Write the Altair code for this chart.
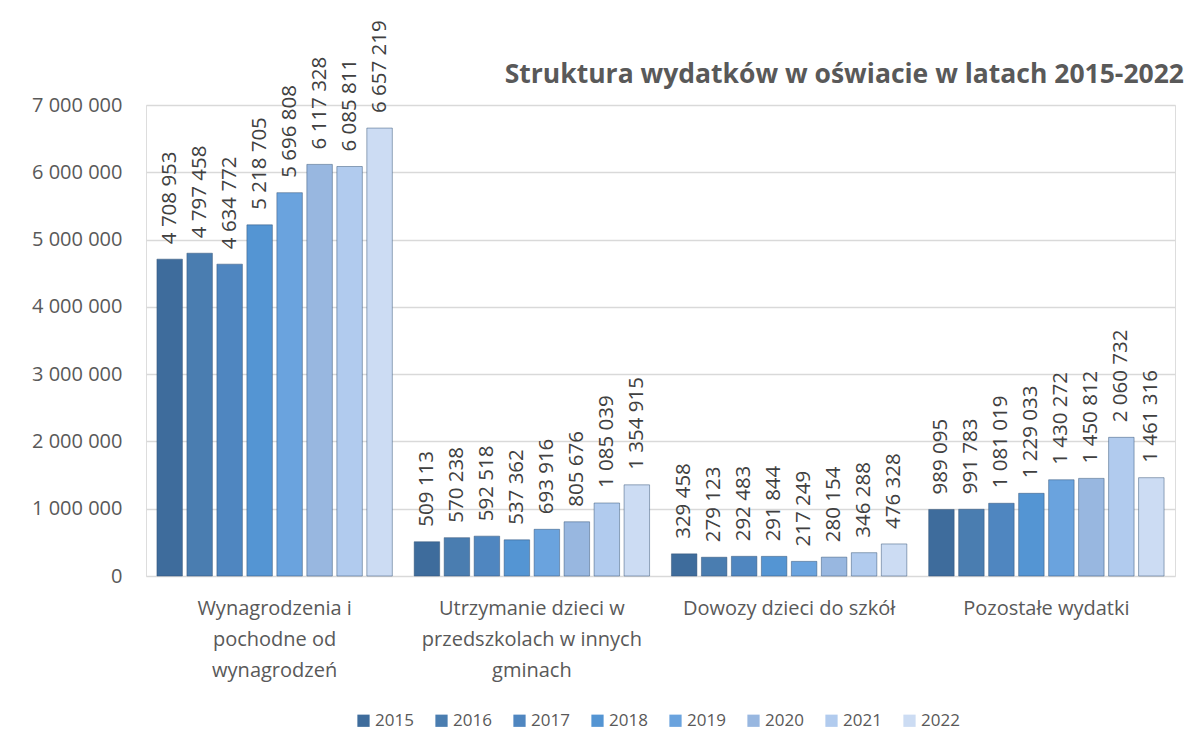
import altair as alt
import pandas as pd

categories = [
    "Wynagrodzenia i\npochodne od\nwynagrodzeń",
    "Utrzymanie dzieci w\nprzedszkolach w innych\ngminach",
    "Dowozy dzieci do szkół",
    "Pozostałe wydatki",
]
years = ["2015", "2016", "2017", "2018", "2019", "2020", "2021", "2022"]
wynagrodzenia = [4708953, 4797458, 4634772, 5218705, 5696808, 6117328, 6085811, 6657219]
utrzymanie = [509113, 570238, 592518, 537362, 693916, 805676, 1085039, 1354915]
dowozy = [329458, 279123, 292483, 291844, 217249, 280154, 346288, 476328]
pozostale = [989095, 991783, 1081019, 1229033, 1430272, 1450812, 2060732, 1461316]
colors = ["#3e6c9c", "#4a7db0", "#4f86c0", "#5495d3", "#6aa3de", "#98b7e0", "#b1cbee", "#ccdcf3"]
y_ticks = [0, 1000000, 2000000, 3000000, 4000000, 5000000, 6000000, 7000000]

rows = []
for cat, vals in zip(categories, [wynagrodzenia, utrzymanie, dowozy, pozostale]):
    for yr, v in zip(years, vals):
        rows.append({"category": cat, "year": yr, "value": v})
df = pd.DataFrame(rows)

FONT = "Open Sans"
GREY = "#595959"

base = alt.Chart(df).transform_calculate(
    label="replace(format(datum.value, ','), regexp(',', 'g'), ' ')"
).encode(
    x=alt.X(
        "category:N",
        sort=categories,
        scale=alt.Scale(paddingInner=0.085, paddingOuter=0.0425),
        axis=alt.Axis(
            title=None,
            labelExpr="split(datum.label, '\\n')",
            labelAngle=0,
            labelFontSize=20,
            labelFont=FONT,
            labelColor=GREY,
            labelLineHeight=31,
            labelPadding=22,
            labelLimit=400,
            ticks=False,
            domain=False,
            grid=False,
        ),
    ),
    xOffset=alt.XOffset(
        "year:N", sort=years, scale=alt.Scale(paddingInner=0.15, paddingOuter=0.0)
    ),
    y=alt.Y(
        "value:Q",
        scale=alt.Scale(domain=[0, 7000000], nice=False),
        axis=alt.Axis(
            title=None,
            values=y_ticks,
            labelExpr="replace(format(datum.value, ','), regexp(',', 'g'), ' ')",
            labelFontSize=20,
            labelFont=FONT,
            labelColor=GREY,
            labelPadding=24,
            ticks=False,
            domain=False,
            gridColor="#d9d9d9",
            gridWidth=1.5,
        ),
    ),
)

bars = base.mark_bar(stroke="#2f4f72", strokeWidth=0.8, strokeOpacity=0.6).encode(
    color=alt.Color(
        "year:N",
        sort=years,
        scale=alt.Scale(domain=years, range=colors),
        legend=alt.Legend(
            title=None,
            orient="none",
            direction="horizontal",
            legendX=209,
            legendY=607,
            symbolType="square",
            symbolSize=150,
            symbolStrokeWidth=0,
            labelFontSize=17,
            labelFont=FONT,
            labelColor=GREY,
            labelOffset=3,
            columnPadding=19,
        ),
    )
)

labels = base.mark_text(
    angle=270,
    align="left",
    baseline="middle",
    dx=15,
    fontSize=20.5,
    font=FONT,
    color="#404040",
).encode(text="label:N")

chart = (
    alt.layer(bars, labels)
    .properties(
        width=1029,
        height=471,
        autosize=alt.AutoSizeParams(type="none"),
        padding={"left": 138, "top": 97, "right": 14, "bottom": 167},
        title=alt.Title(
            "Struktura wydatków w  oświacie w latach 2015-2022",
            anchor="end",
            fontSize=26.5,
            fontWeight="bold",
            font=FONT,
            color=GREY,
            offset=20,
            dx=9,
            dy=88,
        ),
    )
    .configure_view(stroke=None)
    .configure(background="white")
)

chart.save("out.html", embed_options={"renderer": "svg", "actions": False})
